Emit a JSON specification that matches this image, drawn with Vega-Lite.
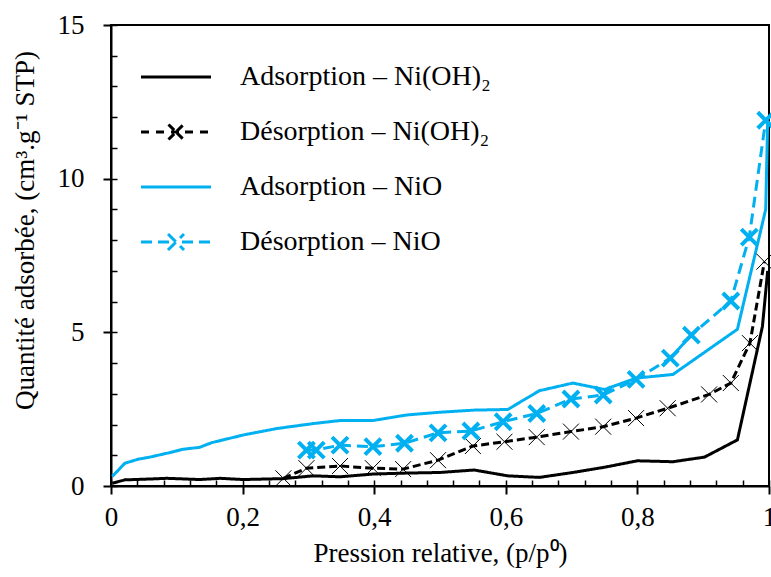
{
  "$schema": "https://vega.github.io/schema/vega-lite/v6.json",
  "width": 658,
  "height": 461,
  "autosize": "none",
  "padding": {"left": 111, "top": 25, "right": 2, "bottom": 91},
  "background": "white",
  "config": {
    "view": {"stroke": "black", "strokeWidth": 2},
    "font": "Liberation Serif",
    "axis": {"labelFont": "Liberation Serif", "titleFont": "Liberation Serif", "labelColor": "black", "titleColor": "black", "grid": false, "domainColor": "black", "tickColor": "black"},
    "legend": {"labelFont": "Liberation Serif"}
  },
  "datasets": {
    "iso": [
      {"series": "Adsorption – Ni(OH)₂", "p": 0.002, "q": 0.09},
      {"series": "Adsorption – Ni(OH)₂", "p": 0.021, "q": 0.2},
      {"series": "Adsorption – Ni(OH)₂", "p": 0.05, "q": 0.22},
      {"series": "Adsorption – Ni(OH)₂", "p": 0.085, "q": 0.25},
      {"series": "Adsorption – Ni(OH)₂", "p": 0.135, "q": 0.21},
      {"series": "Adsorption – Ni(OH)₂", "p": 0.166, "q": 0.25},
      {"series": "Adsorption – Ni(OH)₂", "p": 0.201, "q": 0.21},
      {"series": "Adsorption – Ni(OH)₂", "p": 0.262, "q": 0.24},
      {"series": "Adsorption – Ni(OH)₂", "p": 0.307, "q": 0.33},
      {"series": "Adsorption – Ni(OH)₂", "p": 0.348, "q": 0.30},
      {"series": "Adsorption – Ni(OH)₂", "p": 0.398, "q": 0.39},
      {"series": "Adsorption – Ni(OH)₂", "p": 0.449, "q": 0.42},
      {"series": "Adsorption – Ni(OH)₂", "p": 0.50, "q": 0.44},
      {"series": "Adsorption – Ni(OH)₂", "p": 0.552, "q": 0.52},
      {"series": "Adsorption – Ni(OH)₂", "p": 0.603, "q": 0.33},
      {"series": "Adsorption – Ni(OH)₂", "p": 0.651, "q": 0.28},
      {"series": "Adsorption – Ni(OH)₂", "p": 0.702, "q": 0.44},
      {"series": "Adsorption – Ni(OH)₂", "p": 0.75, "q": 0.61},
      {"series": "Adsorption – Ni(OH)₂", "p": 0.80, "q": 0.82},
      {"series": "Adsorption – Ni(OH)₂", "p": 0.854, "q": 0.79},
      {"series": "Adsorption – Ni(OH)₂", "p": 0.902, "q": 0.94},
      {"series": "Adsorption – Ni(OH)₂", "p": 0.952, "q": 1.50},
      {"series": "Adsorption – Ni(OH)₂", "p": 0.990, "q": 5.19},
      {"series": "Adsorption – Ni(OH)₂", "p": 0.998, "q": 7.0},
      {"series": "Désorption – Ni(OH)₂", "p": 0.262, "q": 0.25},
      {"series": "Désorption – Ni(OH)₂", "p": 0.297, "q": 0.58},
      {"series": "Désorption – Ni(OH)₂", "p": 0.348, "q": 0.65},
      {"series": "Désorption – Ni(OH)₂", "p": 0.398, "q": 0.58},
      {"series": "Désorption – Ni(OH)₂", "p": 0.444, "q": 0.55},
      {"series": "Désorption – Ni(OH)₂", "p": 0.497, "q": 0.84},
      {"series": "Désorption – Ni(OH)₂", "p": 0.550, "q": 1.30},
      {"series": "Désorption – Ni(OH)₂", "p": 0.598, "q": 1.44},
      {"series": "Désorption – Ni(OH)₂", "p": 0.647, "q": 1.59},
      {"series": "Désorption – Ni(OH)₂", "p": 0.699, "q": 1.77},
      {"series": "Désorption – Ni(OH)₂", "p": 0.748, "q": 1.93},
      {"series": "Désorption – Ni(OH)₂", "p": 0.798, "q": 2.21},
      {"series": "Désorption – Ni(OH)₂", "p": 0.846, "q": 2.53},
      {"series": "Désorption – Ni(OH)₂", "p": 0.909, "q": 2.98},
      {"series": "Désorption – Ni(OH)₂", "p": 0.942, "q": 3.35},
      {"series": "Désorption – Ni(OH)₂", "p": 0.971, "q": 4.65},
      {"series": "Désorption – Ni(OH)₂", "p": 0.993, "q": 7.3},
      {"series": "Adsorption – NiO", "p": 0.002, "q": 0.31},
      {"series": "Adsorption – NiO", "p": 0.021, "q": 0.74},
      {"series": "Adsorption – NiO", "p": 0.041, "q": 0.87},
      {"series": "Adsorption – NiO", "p": 0.059, "q": 0.94},
      {"series": "Adsorption – NiO", "p": 0.09, "q": 1.09},
      {"series": "Adsorption – NiO", "p": 0.108, "q": 1.19},
      {"series": "Adsorption – NiO", "p": 0.135, "q": 1.26},
      {"series": "Adsorption – NiO", "p": 0.153, "q": 1.41},
      {"series": "Adsorption – NiO", "p": 0.201, "q": 1.66},
      {"series": "Adsorption – NiO", "p": 0.252, "q": 1.87},
      {"series": "Adsorption – NiO", "p": 0.307, "q": 2.03},
      {"series": "Adsorption – NiO", "p": 0.348, "q": 2.13},
      {"series": "Adsorption – NiO", "p": 0.398, "q": 2.13},
      {"series": "Adsorption – NiO", "p": 0.449, "q": 2.31},
      {"series": "Adsorption – NiO", "p": 0.50, "q": 2.40},
      {"series": "Adsorption – NiO", "p": 0.553, "q": 2.47},
      {"series": "Adsorption – NiO", "p": 0.603, "q": 2.49},
      {"series": "Adsorption – NiO", "p": 0.651, "q": 3.10},
      {"series": "Adsorption – NiO", "p": 0.702, "q": 3.35},
      {"series": "Adsorption – NiO", "p": 0.75, "q": 3.14},
      {"series": "Adsorption – NiO", "p": 0.798, "q": 3.51},
      {"series": "Adsorption – NiO", "p": 0.854, "q": 3.63},
      {"series": "Adsorption – NiO", "p": 0.952, "q": 5.10},
      {"series": "Adsorption – NiO", "p": 0.995, "q": 9.0},
      {"series": "Adsorption – NiO", "p": 0.998, "q": 11.9},
      {"series": "Désorption – NiO", "p": 0.297, "q": 1.17},
      {"series": "Désorption – NiO", "p": 0.312, "q": 1.17},
      {"series": "Désorption – NiO", "p": 0.348, "q": 1.33},
      {"series": "Désorption – NiO", "p": 0.398, "q": 1.28},
      {"series": "Désorption – NiO", "p": 0.446, "q": 1.39},
      {"series": "Désorption – NiO", "p": 0.497, "q": 1.73},
      {"series": "Désorption – NiO", "p": 0.547, "q": 1.79},
      {"series": "Désorption – NiO", "p": 0.596, "q": 2.09},
      {"series": "Désorption – NiO", "p": 0.647, "q": 2.36},
      {"series": "Désorption – NiO", "p": 0.699, "q": 2.83},
      {"series": "Désorption – NiO", "p": 0.748, "q": 2.96},
      {"series": "Désorption – NiO", "p": 0.798, "q": 3.47},
      {"series": "Désorption – NiO", "p": 0.850, "q": 4.16},
      {"series": "Désorption – NiO", "p": 0.882, "q": 4.91},
      {"series": "Désorption – NiO", "p": 0.942, "q": 6.02},
      {"series": "Désorption – NiO", "p": 0.970, "q": 8.1},
      {"series": "Désorption – NiO", "p": 0.995, "q": 11.9}
    ]
  },
  "data": {"name": "iso"},
  "resolve": {"scale": {"x": "independent", "y": "independent"}, "axis": {"x": "independent", "y": "independent"}},
  "layer": [
    {
      "mark": {"type": "line", "strokeWidth": 3, "clip": false},
      "encoding": {
        "x": {"field": "p", "type": "quantitative", "scale": {"domain": [0, 1], "nice": false, "zero": true},
          "axis": {"orient": "bottom", "values": [0, 0.2, 0.4, 0.6, 0.8, 1], "tickSize": 8, "tickWidth": 2, "domainWidth": 2,
            "labelExpr": "replace(format(datum.value,'~g'),'.',',')", "labelFontSize": 27, "labelPadding": 10, "labelFlush": false,
            "title": "Pression relative, (p/p⁰)", "titleFontSize": 27, "titleFontWeight": "normal", "titleY": 67, "titleBaseline": "middle"}},
        "y": {"field": "q", "type": "quantitative", "scale": {"domain": [0, 15], "nice": false, "zero": true},
          "axis": {"orient": "left", "values": [0, 5, 10, 15], "tickSize": 8, "tickWidth": 2, "domainWidth": 2,
            "labelFontSize": 27, "labelPadding": 19, "labelFlush": false,
            "title": "Quantité adsorbée, (cm³.g⁻¹ STP)", "titleFontSize": 27, "titleFontWeight": "normal", "titleX": -86, "titleY": 205, "titleBaseline": "middle", "titleAlign": "center"}},
        "color": {"field": "series", "type": "nominal",
          "scale": {"domain": ["Adsorption – Ni(OH)₂", "Désorption – Ni(OH)₂", "Adsorption – NiO", "Désorption – NiO"], "range": ["black", "black", "#00b0f0", "#00b0f0"]},
          "legend": {"title": null, "orient": "none", "legendX": 51, "legendY": 38, "padding": 0, "labelFontSize": 28, "labelColor": "black", "labelLimit": 0,
            "symbolSize": 400, "symbolStrokeWidth": 3, "labelOffset": 50, "rowPadding": 27,
            "encode": {"symbols": {"update": {
              "shape": {"signal": "datum.value === 'Désorption – NiO' ? 'M-3.5,0H-2.3M-1.8,0H-0.6M0.6,0H1.8M2.3,0H3.5M-0.8,-0.8L0.8,0.8M-0.8,0.8L0.8,-0.8' : (datum.value === 'Désorption – Ni(OH)₂' ? 'M-3.5,0H-2.4M-2,0H-0.9M-0.5,0H0.5M0.9,0H2M2.4,0H3.5M-0.75,-0.75L0.75,0.75M-0.75,0.75L0.75,-0.75' : 'M-3.5,0H3.5')"},
              "strokeDash": {"value": [1, 0]},
              "fill": {"value": "transparent"},
              "strokeWidth": {"value": 3}
            }}}}},
        "strokeDash": {"field": "series", "type": "nominal",
          "scale": {"domain": ["Adsorption – Ni(OH)₂", "Désorption – Ni(OH)₂", "Adsorption – NiO", "Désorption – NiO"], "range": [[1, 0], [8, 4], [1, 0], [11, 6]]},
          "legend": null}
      }
    },
    {
      "transform": [{"filter": "indexof(datum.series, 'Désorption') === 0"}],
      "mark": {"type": "point", "shape": "M-1,-1L1,1M-1,1L1,-1", "filled": false, "size": 256, "opacity": 1, "clip": false},
      "encoding": {
        "x": {"field": "p", "type": "quantitative", "scale": {"domain": [0, 1], "nice": false, "zero": true},
          "axis": {"orient": "bottom", "offset": -6, "values": [0, 0.04, 0.08, 0.12, 0.16, 0.2, 0.24, 0.28, 0.32, 0.36, 0.4, 0.44, 0.48, 0.52, 0.56, 0.6, 0.64, 0.68, 0.72, 0.76, 0.8, 0.84, 0.88, 0.92, 0.96, 1], "tickSize": 6, "tickWidth": 1.5, "labels": false, "domain": false, "title": null}},
        "y": {"field": "q", "type": "quantitative", "scale": {"domain": [0, 15], "nice": false, "zero": true},
          "axis": {"orient": "left", "offset": -6, "values": [0, 1, 2, 3, 4, 5, 6, 7, 8, 9, 10, 11, 12, 13, 14, 15], "tickSize": 6, "tickWidth": 1.5, "labels": false, "domain": false, "title": null}},
        "color": {"field": "series", "type": "nominal", "legend": null},
        "strokeWidth": {"condition": {"test": "datum.series === 'Désorption – NiO'", "value": 4}, "value": 1}
      }
    }
  ]
}
